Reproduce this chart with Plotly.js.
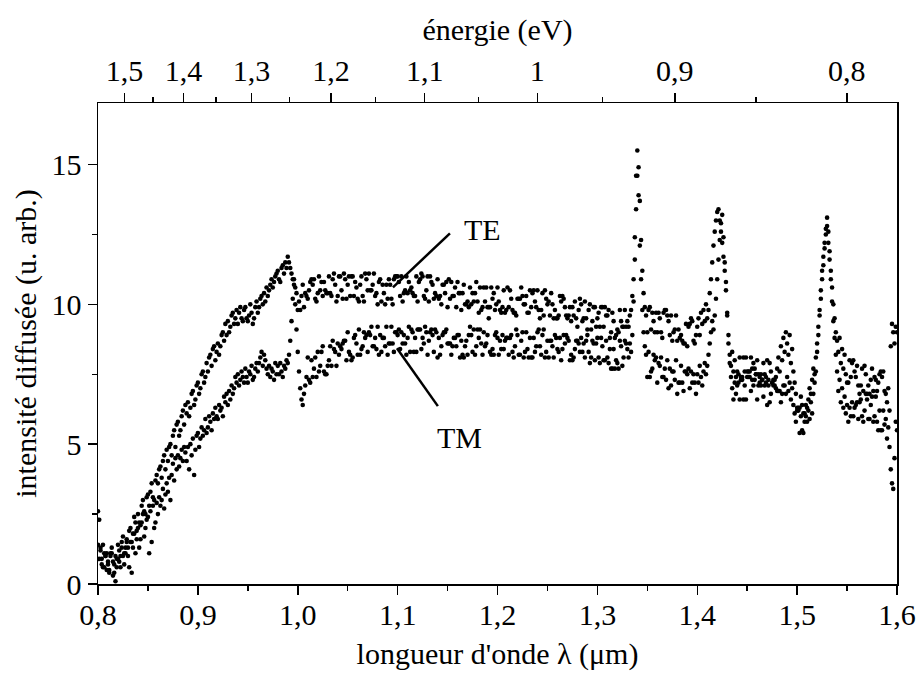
<!DOCTYPE html>
<html>
<head>
<meta charset="utf-8">
<script src="https://cdn.plot.ly/plotly-3.0.1.min.js"></script>
<style>html,body{margin:0;padding:0;background:#fff;}#chart{width:918px;height:682px;}</style>
</head>
<body>
<div id="chart"></div>
<script>
// wavelength sampling (µm): first value and step
const LAMBDA_START = 0.8;
const LAMBDA_STEP = 0.00125;

// TE scattered intensity (arb. units), 8 samples per 0.01 µm
const TE = [
/*0.80*/ 2.6, 2.3, 1.3, 0.9, 1.4, 0.6, 1.0, 1.1,
/*0.81*/ 0.7, 0.5, 1.1, 1.3, 0.8, 0.4, 1.0, 0.9,
/*0.82*/ 1.4, 0.8, 1.0, 1.5, 1.7, 1.1, 1.3, 1.6,
/*0.83*/ 1.3, 1.9, 2.0, 1.5, 1.8, 2.4, 2.2, 1.9,
/*0.84*/ 2.5, 2.2, 2.1, 2.8, 3.0, 2.6, 2.5, 3.1,
/*0.85*/ 3.2, 2.8, 3.3, 3.6, 3.1, 3.0, 3.7, 3.9,
/*0.86*/ 3.6, 4.1, 4.2, 3.8, 4.4, 4.6, 4.1, 4.8,
/*0.87*/ 4.4, 4.9, 5.0, 4.6, 5.3, 5.5, 4.9, 5.7,
/*0.88*/ 5.8, 5.3, 5.5, 6.0, 6.2, 5.7, 6.4, 6.1,
/*0.89*/ 6.5, 6.0, 6.3, 6.8, 6.9, 6.4, 6.6, 7.1,
/*0.90*/ 7.2, 6.8, 7.0, 7.5, 7.6, 7.2, 7.4, 7.9,
/*0.91*/ 7.6, 8.1, 8.2, 7.8, 8.4, 8.5, 8.0, 8.3,
/*0.92*/ 8.6, 8.2, 8.5, 8.9, 9.0, 8.7, 9.3, 8.9,
/*0.93*/ 9.4, 9.0, 9.2, 9.6, 9.7, 9.3, 9.5, 9.8,
/*0.94*/ 9.3, 9.7, 9.9, 9.5, 9.4, 9.8, 9.9, 9.5,
/*0.95*/ 9.4, 9.6, 10.0, 9.7, 9.3, 9.5, 9.9, 10.1,
/*0.96*/ 9.7, 9.9, 10.2, 10.3, 10.0, 10.4, 10.1, 10.6,
/*0.97*/ 10.3, 10.5, 10.7, 10.9, 10.6, 10.8, 11.0, 11.1,
/*0.98*/ 11.2, 10.9, 10.8, 11.3, 11.4, 11.1, 11.5, 11.3,
/*0.99*/ 11.7, 11.5, 11.3, 11.1, 10.9, 10.7, 10.6, 10.4,
/*1.00*/ 9.8, 10.1, 9.8, 10.3, 10.7, 9.9, 10.4, 10.3,
/*1.01*/ 10.2, 10.5, 10.8, 10.9, 10.7, 10.9, 10.2, 10.1,
/*1.02*/ 10.4, 11.0, 10.5, 10.8, 10.3, 10.8, 10.5, 10.4,
/*1.03*/ 10.4, 11.0, 10.4, 10.3, 10.9, 11.1, 10.7, 10.1,
/*1.04*/ 10.3, 11.0, 11.0, 10.5, 10.2, 11.1, 10.9, 10.2,
/*1.05*/ 10.7, 11.0, 10.3, 11.0, 11.0, 10.3, 10.8, 10.6,
/*1.06*/ 10.2, 10.1, 10.7, 11.0, 10.3, 10.1, 11.1, 10.9,
/*1.07*/ 10.5, 11.1, 10.5, 10.5, 10.7, 11.1, 10.3, 10.4,
/*1.08*/ 10.0, 10.8, 10.9, 10.1, 10.7, 10.4, 10.0, 10.7,
/*1.09*/ 10.2, 10.9, 10.7, 10.2, 10.0, 10.9, 11.0, 11.0,
/*1.10*/ 11.0, 10.8, 10.3, 11.0, 10.1, 10.4, 10.5, 11.0,
/*1.11*/ 10.4, 10.8, 10.5, 10.6, 10.4, 10.3, 10.3, 11.0,
/*1.12*/ 10.1, 10.8, 10.9, 11.1, 11.0, 10.3, 10.2, 10.5,
/*1.13*/ 11.0, 10.1, 11.0, 10.8, 10.7, 10.2, 10.4, 10.3,
/*1.14*/ 10.9, 10.2, 10.3, 10.0, 10.7, 10.7, 10.4, 10.8,
/*1.15*/ 9.9, 10.9, 10.2, 10.8, 10.3, 10.3, 10.6, 9.9,
/*1.16*/ 10.8, 10.4, 10.4, 9.8, 10.4, 10.7, 10.0, 10.0,
/*1.17*/ 10.1, 9.9, 10.6, 10.0, 10.4, 10.1, 10.4, 10.8,
/*1.18*/ 10.1, 9.7, 10.6, 9.8, 9.9, 10.6, 10.1, 10.6,
/*1.19*/ 9.9, 9.9, 9.9, 10.6, 10.2, 10.4, 9.8, 10.0,
/*1.20*/ 10.6, 10.1, 9.8, 9.7, 9.9, 10.5, 9.7, 9.8,
/*1.21*/ 10.6, 9.9, 10.5, 10.2, 9.8, 9.7, 9.7, 9.6,
/*1.22*/ 10.2, 10.2, 10.2, 10.6, 10.3, 10.0, 10.0, 10.3,
/*1.23*/ 9.7, 9.7, 10.5, 9.9, 10.4, 10.5, 10.1, 9.9,
/*1.24*/ 10.5, 9.8, 9.5, 9.8, 10.4, 9.6, 10.5, 10.2,
/*1.25*/ 10.0, 10.1, 9.6, 10.4, 10.0, 9.5, 9.8, 9.5,
/*1.26*/ 9.5, 9.6, 10.3, 10.1, 10.3, 10.2, 9.9, 9.6,
/*1.27*/ 9.5, 9.6, 9.9, 9.4, 9.9, 9.6, 10.1, 9.5,
/*1.28*/ 9.2, 9.8, 10.2, 10.0, 9.4, 9.5, 10.1, 9.5,
/*1.29*/ 9.1, 9.8, 10.0, 9.1, 9.4, 9.9, 9.9, 9.2,
/*1.30*/ 9.5, 9.7, 9.2, 9.9, 9.9, 9.2, 9.9, 9.6,
/*1.31*/ 9.6, 9.8, 8.8, 9.0, 9.7, 9.4, 8.8, 8.9,
/*1.32*/ 9.1, 9.0, 9.8, 9.4, 9.2, 9.2, 9.8, 9.2,
/*1.33*/ 9.4, 9.2, 9.6, 9.8, 10.3, 10.9, 12.4, 14.6,
/*1.34*/ 15.5, 14.9, 13.7, 12.3, 11.2, 10.4, 9.9, 9.6,
/*1.35*/ 9.0, 9.8, 9.9, 9.1, 9.7, 9.4, 9.0, 9.7,
/*1.36*/ 9.0, 9.7, 9.5, 9.0, 8.8, 9.7, 9.8, 9.8,
/*1.37*/ 9.6, 9.4, 8.9, 9.6, 8.7, 9.0, 9.1, 9.6,
/*1.38*/ 8.7, 9.1, 8.8, 8.9, 8.7, 8.6, 8.6, 9.3,
/*1.39*/ 8.5, 9.2, 9.3, 9.5, 9.4, 8.7, 8.6, 8.9,
/*1.40*/ 9.2, 9.5, 8.9, 9.7, 9.3, 9.8, 9.4, 10.0,
/*1.41*/ 9.5, 9.8, 10.4, 10.9, 11.5, 12.1, 12.6, 13.0,
/*1.42*/ 13.3, 13.4, 13.0, 12.6, 12.2, 11.7, 11.2, 10.5,
/*1.43*/ 9.7, 8.9, 8.2, 7.8, 8.3, 7.6, 8.0, 7.4,
/*1.44*/ 7.6, 7.2, 8.1, 7.3, 7.4, 8.1, 7.6, 8.1,
/*1.45*/ 7.4, 7.4, 7.4, 8.1, 7.7, 7.9, 7.3, 7.5,
/*1.46*/ 8.0, 7.5, 7.2, 7.1, 7.3, 7.9, 7.1, 7.2,
/*1.47*/ 8.0, 7.3, 7.9, 7.6, 7.2, 7.1, 7.1, 7.0,
/*1.48*/ 7.7, 8.1, 7.6, 8.5, 8.0, 8.8, 8.3, 9.0,
/*1.49*/ 8.6, 8.2, 8.9, 7.9, 8.4, 7.6, 7.2, 6.8,
/*1.50*/ 6.3, 6.3, 6.3, 6.7, 6.4, 6.1, 6.1, 6.4,
/*1.51*/ 6.3, 6.6, 7.0, 6.8, 7.3, 7.7, 7.5, 8.1,
/*1.52*/ 8.6, 9.2, 9.8, 10.5, 11.2, 11.7, 12.2, 12.7,
/*1.53*/ 13.1, 12.6, 11.9, 11.2, 10.6, 10.0, 9.5, 9.0,
/*1.54*/ 8.7, 8.3, 8.8, 7.9, 8.4, 7.7, 8.2, 7.5,
/*1.55*/ 7.2, 7.2, 8.0, 7.4, 7.9, 8.0, 7.6, 7.4,
/*1.56*/ 7.8, 7.1, 6.8, 7.1, 7.7, 6.9, 7.8, 7.5,
/*1.57*/ 6.8, 7.1, 6.8, 7.3, 7.7, 6.9, 7.4, 7.3,
/*1.58*/ 6.9, 7.2, 7.5, 7.6, 7.4, 7.6, 6.9, 6.8,
/*1.59*/ 6.5, 7.0, 6.2, 8.5, 9.3, 9.0, 8.6, 9.2,
/*1.60*/ 9.0
];

// TM scattered intensity (arb. units), 8 samples per 0.01 µm
const TM = [
/*0.80*/ 1.4, 0.9, 1.2, 0.7, 0.6, 1.1, 1.0, 0.5,
/*0.81*/ 0.8, 0.4, 1.0, 1.1, 0.3, 0.7, 0.1, 0.6,
/*0.82*/ 0.9, 1.2, 0.6, 1.3, 1.0, 0.7, 1.1, 1.5,
/*0.83*/ 1.0, 0.6, 1.5, 0.4, 1.3, 1.8, 1.1, 1.6,
/*0.84*/ 2.0, 1.3, 1.6, 2.2, 2.5, 1.7, 2.0, 2.3,
/*0.85*/ 2.4, 1.1, 2.6, 1.5, 2.8, 2.0, 2.2, 2.9,
/*0.86*/ 2.5, 3.1, 2.8, 3.0, 3.4, 2.7, 3.2, 3.6,
/*0.87*/ 3.3, 3.8, 3.0, 3.9, 4.3, 3.7, 4.5, 4.1,
/*0.88*/ 4.6, 4.2, 4.5, 4.8, 4.4, 4.9, 4.7, 4.4,
/*0.89*/ 4.9, 4.1, 5.0, 4.6, 5.2, 3.9, 4.8, 5.3,
/*0.90*/ 5.4, 4.9, 5.2, 5.6, 5.3, 5.5, 5.9, 5.4,
/*0.91*/ 5.6, 6.0, 5.8, 5.5, 6.1, 5.9, 6.3, 6.0,
/*0.92*/ 5.9, 6.4, 6.2, 6.3, 6.0, 6.7, 6.5, 6.8,
/*0.93*/ 6.4, 6.9, 6.6, 7.1, 6.8, 7.0, 7.4, 7.2,
/*0.94*/ 7.5, 7.1, 7.3, 7.6, 7.4, 7.2, 7.7, 7.4,
/*0.95*/ 7.2, 7.6, 7.5, 7.8, 7.3, 7.4, 7.7, 7.9,
/*0.96*/ 7.6, 7.9, 8.1, 8.3, 7.8, 8.2, 8.0, 7.7,
/*0.97*/ 7.5, 7.8, 7.4, 7.7, 7.6, 7.3, 7.9, 7.5,
/*0.98*/ 7.8, 7.5, 7.9, 7.6, 7.4, 7.8, 7.7, 8.0,
/*0.99*/ 7.9, 8.2, 8.7, 9.4, 10.2, 10.9, 10.0, 9.1,
/*1.00*/ 8.3, 7.6, 7.0, 6.6, 6.4, 6.8, 7.1, 7.4,
/*1.01*/ 8.1, 7.3, 7.2, 8.0, 7.4, 7.7, 8.1, 7.4,
/*1.02*/ 8.3, 7.6, 7.8, 8.3, 8.5, 7.6, 7.5, 7.5,
/*1.03*/ 7.8, 8.0, 8.5, 7.8, 8.7, 8.4, 8.3, 7.8,
/*1.04*/ 8.6, 8.2, 8.5, 8.4, 8.6, 8.7, 8.7, 8.0,
/*1.05*/ 9.0, 8.3, 8.2, 8.0, 8.1, 8.8, 8.9, 8.6,
/*1.06*/ 8.2, 9.1, 8.2, 8.4, 8.5, 9.0, 8.8, 8.9,
/*1.07*/ 8.3, 9.0, 8.9, 9.2, 8.5, 8.5, 8.8, 8.4,
/*1.08*/ 9.2, 8.2, 8.9, 8.3, 8.8, 8.8, 8.5, 9.2,
/*1.09*/ 8.2, 8.6, 8.6, 9.2, 8.6, 8.3, 9.0, 9.0,
/*1.10*/ 8.9, 9.1, 8.4, 9.0, 8.6, 8.9, 8.6, 8.2,
/*1.11*/ 8.8, 9.2, 8.3, 9.1, 9.0, 8.3, 8.8, 8.3,
/*1.12*/ 9.1, 9.1, 9.1, 8.4, 8.8, 8.6, 9.2, 9.0,
/*1.13*/ 8.2, 8.7, 9.0, 9.1, 8.9, 8.3, 9.1, 9.0,
/*1.14*/ 8.1, 8.8, 8.2, 8.5, 8.9, 9.0, 9.0, 9.1,
/*1.15*/ 8.6, 8.6, 8.6, 8.2, 8.5, 8.8, 8.8, 8.5,
/*1.16*/ 8.9, 8.9, 8.1, 8.7, 8.2, 8.1, 8.5, 8.7,
/*1.17*/ 8.2, 8.9, 9.2, 8.9, 8.3, 9.1, 8.2, 8.5,
/*1.18*/ 9.1, 8.8, 9.1, 8.6, 8.2, 9.0, 8.5, 8.6,
/*1.19*/ 8.9, 9.5, 8.3, 8.2, 8.4, 8.2, 8.9, 9.0,
/*1.20*/ 8.8, 8.2, 8.7, 8.4, 8.9, 8.4, 8.7, 8.8,
/*1.21*/ 8.8, 8.2, 8.8, 8.9, 8.3, 8.1, 8.5, 9.1,
/*1.22*/ 8.9, 8.2, 8.2, 8.7, 9.0, 8.1, 8.3, 9.0,
/*1.23*/ 8.4, 8.1, 8.8, 8.1, 8.1, 8.8, 8.3, 8.5,
/*1.24*/ 9.0, 9.1, 8.5, 8.2, 8.9, 9.1, 8.1, 8.3,
/*1.25*/ 8.7, 8.1, 8.7, 8.7, 8.5, 8.1, 8.9, 8.8,
/*1.26*/ 8.4, 8.3, 8.8, 8.0, 8.4, 8.9, 8.6, 8.9,
/*1.27*/ 8.8, 8.7, 8.0, 8.2, 8.0, 8.1, 8.4, 8.7,
/*1.28*/ 8.7, 8.6, 8.3, 8.8, 8.3, 8.6, 8.1, 8.7,
/*1.29*/ 8.9, 8.3, 7.9, 8.1, 8.7, 8.6, 8.0, 8.6,
/*1.30*/ 8.8, 8.1, 7.9, 8.8, 8.5, 8.0, 8.0, 8.7,
/*1.31*/ 8.1, 7.9, 8.4, 7.7, 7.7, 8.4, 7.7, 8.0,
/*1.32*/ 7.9, 7.7, 8.7, 8.5, 7.8, 8.1, 8.7, 8.6,
/*1.33*/ 8.4, 8.1, 8.6, 8.3, 8.9, 10.1, 11.6, 13.4,
/*1.34*/ 14.6, 13.9, 12.1, 10.9, 9.8, 9.0, 8.5, 8.2,
/*1.35*/ 7.4, 8.3, 7.4, 7.6, 7.7, 8.2, 8.0, 8.1,
/*1.36*/ 7.2, 7.9, 7.8, 8.1, 7.4, 7.4, 7.7, 7.3,
/*1.37*/ 8.0, 7.0, 7.7, 7.1, 7.6, 7.6, 7.3, 8.0,
/*1.38*/ 6.8, 7.2, 7.2, 7.8, 7.2, 6.9, 7.6, 7.6,
/*1.39*/ 7.5, 7.7, 7.0, 7.6, 7.2, 7.5, 7.2, 6.8,
/*1.40*/ 7.5, 7.2, 7.8, 7.4, 7.1, 7.6, 7.9, 7.5,
/*1.41*/ 7.8, 8.2, 8.6, 9.0, 9.4, 9.1, 9.6, 10.2,
/*1.42*/ 10.9, 11.6, 12.3, 12.9, 13.2, 12.4, 11.5, 10.8,
/*1.43*/ 9.6, 8.6, 7.9, 7.4, 7.0, 6.6, 7.2, 6.8,
/*1.44*/ 7.1, 7.5, 6.6, 7.4, 7.3, 6.6, 7.1, 6.6,
/*1.45*/ 7.6, 7.6, 7.6, 6.9, 7.3, 7.1, 7.7, 7.5,
/*1.46*/ 6.6, 7.1, 7.4, 7.5, 7.3, 6.7, 7.5, 7.4,
/*1.47*/ 6.4, 7.1, 6.5, 6.8, 7.2, 7.3, 7.3, 7.4,
/*1.48*/ 6.9, 6.9, 6.9, 6.5, 6.8, 7.1, 7.1, 6.8,
/*1.49*/ 7.4, 6.9, 7.2, 6.6, 7.0, 6.4, 6.1, 5.8,
/*1.50*/ 6.2, 6.2, 5.4, 6.0, 5.5, 5.4, 5.8, 6.0,
/*1.51*/ 5.8, 6.2, 5.9, 6.5, 6.1, 6.8, 7.2, 7.6,
/*1.52*/ 8.3, 8.9, 9.6, 10.2, 10.9, 11.4, 12.0, 12.5,
/*1.53*/ 12.8, 12.2, 11.6, 10.9, 10.1, 9.4, 8.8, 8.2,
/*1.54*/ 7.6, 6.9, 7.3, 6.5, 7.0, 6.3, 6.7, 6.1,
/*1.55*/ 6.4, 5.8, 6.3, 6.0, 6.5, 6.0, 6.3, 6.4,
/*1.56*/ 6.5, 5.9, 6.5, 6.6, 6.0, 5.8, 6.2, 6.8,
/*1.57*/ 6.6, 5.9, 5.9, 6.4, 6.7, 5.8, 6.0, 6.7,
/*1.58*/ 5.8, 5.5, 6.2, 5.5, 5.5, 6.2, 5.7, 5.9,
/*1.59*/ 5.2, 5.6, 4.9, 4.1, 3.6, 3.4, 4.5, 5.8,
/*1.60*/ 5.5
];

// top axis: photon energy (eV), lambda(µm) = HC / E
const HC_EV_UM = 1.2398;
const ENERGY_TICKS = [1.5, 1.4, 1.3, 1.2, 1.1, 1.0, 0.9, 0.8];
const ENERGY_LABELS = ['1,5', '1,4', '1,3', '1,2', '1,1', '1', '0,9', '0,8'];
const ENERGY_MINOR = [1.55, 1.45, 1.35, 1.25, 1.15, 1.05, 0.95, 0.85];

const FONT = 'Liberation Serif';
function f30() { return {family: FONT, size: 30, color: '#000'}; }
const marker = {color: '#000', size: 4.6};

const traces = [
  {type: 'scatter', mode: 'markers', name: 'TE', x0: LAMBDA_START, dx: LAMBDA_STEP, y: TE,
   marker: marker, xaxis: 'x', yaxis: 'y', hoverinfo: 'skip'},
  {type: 'scatter', mode: 'markers', name: 'TM', x0: LAMBDA_START, dx: LAMBDA_STEP, y: TM,
   marker: marker, xaxis: 'x', yaxis: 'y', hoverinfo: 'skip'},
  {type: 'scatter', mode: 'markers', x: [], y: [], xaxis: 'x2', yaxis: 'y',
   hoverinfo: 'skip', showlegend: false}
];

function axisBase() {
  return {showline: true, linecolor: '#000', linewidth: 1.5, showgrid: false, zeroline: false,
    ticks: 'outside', ticklen: 9, tickwidth: 1.5, tickcolor: '#000', tickfont: f30()};
}

const layout = {
  width: 918, height: 682,
  margin: {l: 98, r: 21, t: 103, b: 98},
  paper_bgcolor: '#fff', plot_bgcolor: '#fff',
  showlegend: false,
  separators: ', ',
  font: f30(),
  xaxis: Object.assign(axisBase(), {
    range: [0.8, 1.6], tickmode: 'linear', tick0: 0.8, dtick: 0.1, tickformat: '.1f',
    mirror: true, ticklabelstandoff: -6,
    minor: {tick0: 0.8, dtick: 0.05, ticks: 'outside', ticklen: 5, tickwidth: 1.5, tickcolor: '#000'},
    title: {text: "longueur d'onde λ (μm)", standoff: 13, font: f30()}
  }),
  xaxis2: Object.assign(axisBase(), {
    overlaying: 'x', side: 'top', anchor: 'y',
    range: [0.8, 1.6],
    tickmode: 'array',
    tickvals: ENERGY_TICKS.map(e => HC_EV_UM / e),
    ticktext: ENERGY_LABELS,
    minor: {tickmode: 'array', tickvals: ENERGY_MINOR.map(e => HC_EV_UM / e),
            ticks: 'outside', ticklen: 5, tickwidth: 1.5, tickcolor: '#000'},
    title: {text: 'énergie (eV)', standoff: 4, font: f30()}
  }),
  yaxis: Object.assign(axisBase(), {
    range: [0, 17.2], tickmode: 'linear', tick0: 0, dtick: 5,
    mirror: true,
    minor: {tick0: 0, dtick: 2.5, ticks: 'outside', ticklen: 5, tickwidth: 1.5, tickcolor: '#000'},
    title: {text: 'intensité diffusée (u. arb.)', standoff: 6, font: f30()}
  }),
  shapes: [
    {type: 'line', xref: 'x', yref: 'y', x0: 1.1524, y0: 12.54, x1: 1.0953, y1: 10.61,
     line: {color: '#000', width: 2.5}},
    {type: 'line', xref: 'x', yref: 'y', x0: 1.0993, y0: 8.43, x1: 1.1403, y1: 6.36,
     line: {color: '#000', width: 2.5}}
  ],
  annotations: [
    {xref: 'x', yref: 'y', x: 1.1854, y: 12.68, text: 'TE', showarrow: false, font: f30()},
    {xref: 'x', yref: 'y', x: 1.1624, y: 5.25, text: 'TM', showarrow: false, font: f30()}
  ]
};

Plotly.newPlot('chart', traces, layout, {displayModeBar: false, staticPlot: true});
</script>
</body>
</html>
